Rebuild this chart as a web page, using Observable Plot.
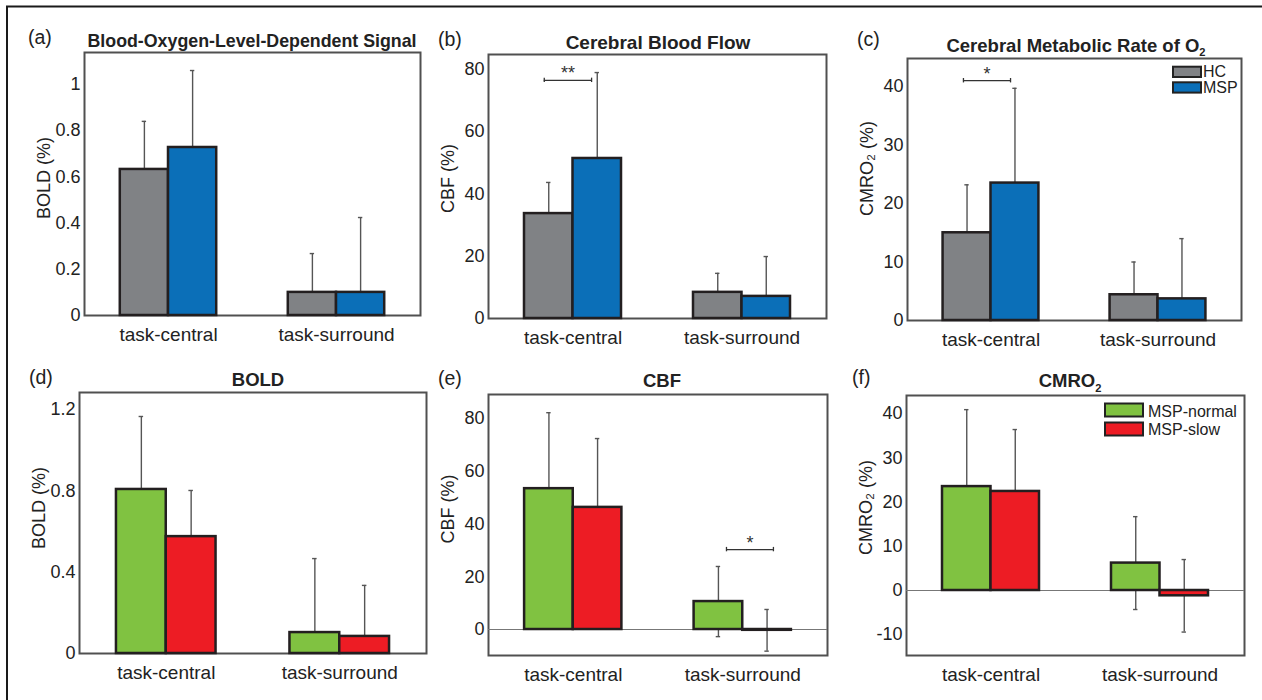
<!DOCTYPE html>
<html><head><meta charset="utf-8">
<script src="https://cdn.jsdelivr.net/npm/d3@7"></script>
<script src="https://cdn.jsdelivr.net/npm/@observablehq/plot@0.6"></script>
<style>
html,body{margin:0;padding:0;background:#fff;}
#root{position:relative;width:1262px;height:700px;overflow:hidden;font-family:"Liberation Sans",Arial,sans-serif;background:#fff;}
.panel{position:absolute;}
#overlay{position:absolute;left:0;top:0;z-index:2;pointer-events:none;}
</style></head><body><div id="root"></div>
<script>
// ---------- data ----------
const categories = ["task-central", "task-surround"];
const groupsTop = ["HC", "MSP"];
const colorsTop = ["#808285", "#0b6fb8"];
const groupsBottom = ["MSP-normal", "MSP-slow"];
const colorsBottom = ["#80c241", "#ed1c24"];

// (a) BOLD, HC vs MSP
const boldHCMean = [0.632, 0.100];
const boldHCSd = [0.208, 0.168];
const boldMSPMean = [0.727, 0.100];
const boldMSPSd = [0.333, 0.324];
// (b) CBF, HC vs MSP
const cbfHCMean = [33.7, 8.4];
const cbfHCSd = [10.0, 6.1];
const cbfMSPMean = [51.4, 7.1];
const cbfMSPSd = [27.6, 12.8];
// (c) CMRO2, HC vs MSP
const cmroHCMean = [15.0, 4.4];
const cmroHCSd = [8.2, 5.6];
const cmroMSPMean = [23.5, 3.7];
const cmroMSPSd = [16.2, 10.3];
// (d) BOLD, MSP-normal vs MSP-slow
const boldNormMean = [0.807, 0.103];
const boldNormSd = [0.359, 0.364];
const boldSlowMean = [0.575, 0.084];
const boldSlowSd = [0.227, 0.251];
// (e) CBF, MSP-normal vs MSP-slow
const cbfNormMean = [53.4, 10.6];
const cbfNormSd = [28.8, 13.3];
const cbfSlowMean = [46.3, -0.3];
const cbfSlowSd = [26.1, 7.9];
// (f) CMRO2, MSP-normal vs MSP-slow
const cmroNormMean = [23.5, 6.2];
const cmroNormSd = [17.4, 10.5];
const cmroSlowMean = [22.4, -1.2];
const cmroSlowSd = [14.0, 8.2];

// tick labels
const ticksBoldA = [0, 0.2, 0.4, 0.6, 0.8, 1];
const ticksCbf = [0, 20, 40, 60, 80];
const ticksCmroC = [0, 10, 20, 30, 40];
const ticksBoldD = [0, 0.4, 0.8, 1.2];
const ticksCmroF = [-10, 0, 10, 20, 30, 40];

// significance annotations
const sigB = [{x1: 0.83, x2: 1.11, y: 76.5, label: "**"}];
const sigC = [{x1: 0.835, x2: 1.117, y: 41, label: "*"}];
const sigE = [{x1: 1.904, x2: 2.181, y: 30.3, label: "*"}];

// ---------- layout ----------
const FONT = '"Liberation Sans", Arial, Helvetica, sans-serif';
const barW = 0.287;
const panels = [
  {L: 84, T: 52, R: 420, B: 315, yDomain: [0, 1.138], yTicks: ticksBoldA, yLabel: "BOLD (%)", labelDy: -6,
   groups: groupsTop, colors: colorsTop, means: [boldHCMean, boldMSPMean], sds: [boldHCSd, boldMSPSd], zero: false, sig: null},
  {L: 488, T: 54, R: 826, B: 318, yDomain: [0, 84.8], yTicks: ticksCbf, yLabel: "CBF (%)", labelDy: -8,
   groups: groupsTop, colors: colorsTop, means: [cbfHCMean, cbfMSPMean], sds: [cbfHCSd, cbfMSPSd], zero: false, sig: sigB},
  {L: 907, T: 58, R: 1241, B: 320, yDomain: [0, 44.8], yTicks: ticksCmroC, yLabel: "CMRO\u2082 (%)", labelDy: -21,
   groups: groupsTop, colors: colorsTop, means: [cmroHCMean, cmroMSPMean], sds: [cmroHCSd, cmroMSPSd], zero: false, sig: sigC},
  {L: 79, T: 392, R: 426, B: 653, yDomain: [0, 1.284], yTicks: ticksBoldD, yLabel: "BOLD (%)", labelDy: -15,
   groups: groupsBottom, colors: colorsBottom, means: [boldNormMean, boldSlowMean], sds: [boldNormSd, boldSlowSd], zero: false, sig: null},
  {L: 488, T: 394, R: 827, B: 655, yDomain: [-9.85, 89.1], yTicks: ticksCbf, yLabel: "CBF (%)", labelDy: -16,
   groups: groupsBottom, colors: colorsBottom, means: [cbfNormMean, cbfSlowMean], sds: [cbfNormSd, cbfSlowSd], zero: true, sig: sigE},
  {L: 906, T: 395, R: 1244, B: 655, yDomain: [-14.7, 44.1], yTicks: ticksCmroF, yLabel: "CMRO\u2082 (%)", labelDy: -18,
   groups: groupsBottom, colors: colorsBottom, means: [cmroNormMean, cmroSlowMean], sds: [cmroNormSd, cmroSlowSd], zero: true, sig: null}
];

const root = document.getElementById("root");

function makePanel(p) {
  const mL = 70, mR = 6, mT = 6, mB = 42;
  const rows = [];
  categories.forEach((c, i) => p.groups.forEach((g, j) => {
    const x1 = i + 1 + (j - 1) * barW, x2 = x1 + barW;
    rows.push({cat: c, group: g, x1, x2, xc: (x1 + x2) / 2, mean: p.means[j][i], sd: p.sds[j][i]});
  }));
  const pxUnit = (p.B - p.T) / (p.yDomain[1] - p.yDomain[0]);
  const capW = 0.013;
  const errStroke = "#555";
  const marks = [Plot.frame({stroke: "#505050", strokeWidth: 2})];
  if (p.zero) marks.push(Plot.ruleY([0], {stroke: "#777", strokeWidth: 1.2}));
  marks.push(Plot.ruleX(rows, {x: "xc", y1: d => d.mean - d.sd, y2: d => d.mean + d.sd, stroke: errStroke, strokeWidth: 1.4, clip: true}));
  marks.push(Plot.ruleY(rows, {y: d => d.mean + d.sd, x1: d => d.xc - capW, x2: d => d.xc + capW, stroke: errStroke, strokeWidth: 1.4, clip: true}));
  marks.push(Plot.ruleY(rows, {y: d => d.mean - d.sd, x1: d => d.xc - capW, x2: d => d.xc + capW, stroke: errStroke, strokeWidth: 1.4, clip: true}));
  marks.push(Plot.rect(rows, {x1: "x1", x2: "x2", y1: () => 0, y2: "mean", fill: "group", stroke: "#231f20", strokeWidth: 2.5}));
  if (p.sig) {
    const h = 2.2 / pxUnit;
    marks.push(Plot.ruleY(p.sig, {y: "y", x1: "x1", x2: "x2", stroke: "#333", strokeWidth: 1.3}));
    marks.push(Plot.ruleX(p.sig, {x: "x1", y1: d => d.y - h, y2: d => d.y + h, stroke: "#333", strokeWidth: 1.3}));
    marks.push(Plot.ruleX(p.sig, {x: "x2", y1: d => d.y - h, y2: d => d.y + h, stroke: "#333", strokeWidth: 1.3}));
    marks.push(Plot.text(p.sig, {x: d => (d.x1 + d.x2) / 2, y: "y", text: "label", lineAnchor: "bottom", dy: -1, fontSize: 18, fill: "#333"}));
  }
  marks.push(Plot.axisY({ticks: p.yTicks, tickSize: 0, tickPadding: 4, tickFormat: d => String(d), fontSize: 18, label: null}));
  marks.push(Plot.axisX({ticks: [1, 2], tickSize: 0, tickPadding: 12, tickFormat: d => categories[d - 1], fontSize: 19, label: null}));
  marks.push(Plot.text([p.yLabel], {frameAnchor: "left", textAnchor: "middle", lineAnchor: "middle", rotate: -90, dx: -40, dy: p.labelDy, fontSize: 18, text: d => d, fill: "#222"}));

  const svg = Plot.plot({
    width: (p.R - p.L) + mL + mR,
    height: (p.B - p.T) + mT + mB,
    marginLeft: mL, marginRight: mR, marginTop: mT, marginBottom: mB,
    x: {domain: [0.5, 2.5]},
    y: {domain: p.yDomain},
    color: {domain: p.groups, range: p.colors},
    style: {fontFamily: FONT, fontSize: "18px", color: "#222", background: "transparent", overflow: "visible"},
    marks
  });
  const div = document.createElement("div");
  div.className = "panel";
  div.style.left = (p.L - mL) + "px";
  div.style.top = (p.T - mT) + "px";
  div.appendChild(svg);
  root.appendChild(div);
}
panels.forEach(makePanel);

// ---------- overlay: border, panel letters, titles, legends ----------
const ov = d3.select(root).append("svg").attr("id", "overlay")
  .attr("width", 1262).attr("height", 700)
  .style("font-family", FONT);

ov.append("path").attr("d", "M7,700 V6.5 H1262").attr("fill", "none").attr("stroke", "#1a1a1a").attr("stroke-width", 2);

const letters = [
  {t: "(a)", x: 28, y: 44}, {t: "(b)", x: 438, y: 46}, {t: "(c)", x: 857, y: 46},
  {t: "(d)", x: 29, y: 384}, {t: "(e)", x: 438, y: 384.5}, {t: "(f)", x: 852, y: 384}
];
ov.selectAll("text.letter").data(letters).join("text").attr("class", "letter")
  .attr("x", d => d.x).attr("y", d => d.y).attr("font-size", 19.5).attr("fill", "#222").text(d => d.t);

const titles = [
  {t: "Blood-Oxygen-Level-Dependent Signal", sub: "", x: 252, y: 47, s: 17.8},
  {t: "Cerebral Blood Flow", sub: "", x: 658, y: 49, s: 19},
  {t: "Cerebral Metabolic Rate of O", sub: "2", x: 1076, y: 51.5, s: 18.5},
  {t: "BOLD", sub: "", x: 258, y: 386, s: 18.5},
  {t: "CBF", sub: "", x: 662, y: 387, s: 18.5},
  {t: "CMRO", sub: "2", x: 1070, y: 387, s: 18.5}
];
titles.forEach(d => {
  const t = ov.append("text").attr("x", d.x).attr("y", d.y).attr("text-anchor", "middle")
    .attr("font-size", d.s).attr("font-weight", "bold").attr("fill", "#222");
  t.append("tspan").text(d.t);
  if (d.sub) t.append("tspan").attr("font-size", d.s * 0.6).attr("dy", d.s * 0.25).text(d.sub);
});

function legend(groups, colors, bx, bw, by, bh, tx, ty, fs) {
  groups.forEach((g, i) => {
    ov.append("rect").attr("x", bx).attr("y", by[i]).attr("width", bw).attr("height", bh)
      .attr("fill", colors[i]).attr("stroke", "#222").attr("stroke-width", 2);
    ov.append("text").attr("x", tx).attr("y", ty[i]).attr("font-size", fs).attr("fill", "#222").text(g);
  });
}
legend(groupsTop, colorsTop, 1173, 28, [66.7, 82.3], 10.3, 1203, [77, 92.7], 16);
legend(groupsBottom, colorsBottom, 1105, 38, [403.5, 422.5], 13, 1148, [416.5, 435], 16);
</script></body></html>
